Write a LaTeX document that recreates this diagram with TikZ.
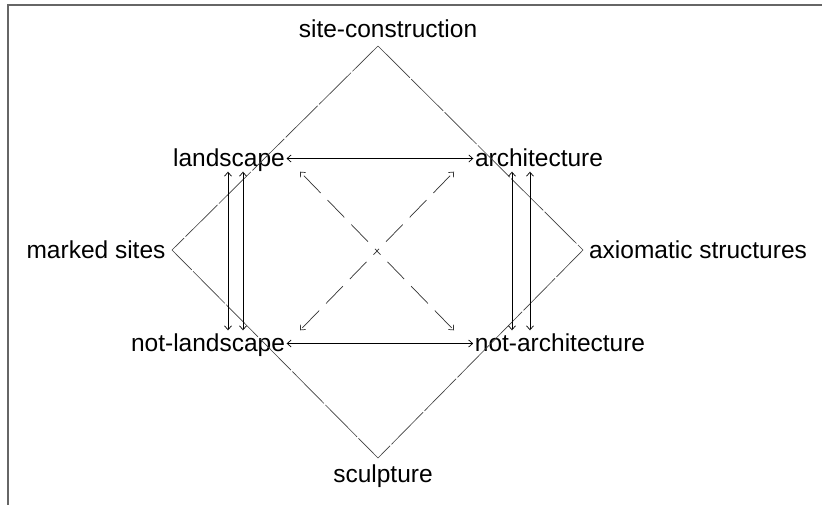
\documentclass[tikz,border=0pt]{standalone}
\usepackage{fontspec}
\setmainfont{Liberation Sans}
\usetikzlibrary{arrows.meta}
\begin{document}
\begin{tikzpicture}[x=1pt,y=-1pt,
  lbl/.style={font=\fontsize{24.5}{28}\selectfont, inner sep=1.5pt, text height=19pt, text depth=4pt, anchor=base},
  diamondedge/.style={draw=black!75, line width=0.65pt, dash pattern=on 45pt off 2pt},
  rel/.style={line width=0.7pt, {Straight Barb[length=4pt,width=7pt]}-{Straight Barb[length=4pt,width=7pt]}},
  diag/.style={rel, draw=black!80, dash pattern=on 0pt off 4.7pt on 24pt off 10pt on 24pt off 10pt on 24pt off 10pt on 8pt off 10pt on 24pt off 10pt on 24pt off 10pt on 24pt off 10pt}]
\useasboundingbox (0,0) rectangle (822,504);
\fill[white] (0,0) rectangle (822,504);
\draw[black!60, line width=1.3pt] (8,520) -- (8,5) -- (840,5);

% labels
\node[lbl] (sc) at (388,37) {site-construction};
\node[lbl] (sp) at (383,482) {sculpture};
\node[lbl] (ms) at (96,258) {marked sites};
\node[lbl] (ax) at (698,258) {axiomatic structures};
\node[lbl] (la) at (229,166) {landscape};
\node[lbl] (ar) at (539,166) {architecture};
\node[lbl] (nl) at (208,351) {not-landscape};
\node[lbl] (na) at (560,351) {not-architecture};

% diamond vertices
\coordinate (T) at (378,46);
\coordinate (B) at (378,458);
\coordinate (L) at (172,250);
\coordinate (R) at (583,250);
\draw[diamondedge] (T) -- (R) -- (B) -- (L) -- cycle;

% helper x positions
\coordinate (x228) at (228,0);
\coordinate (x243) at (243,0);
\coordinate (x512) at (512,0);
\coordinate (x530) at (530,0);
\coordinate (x300) at (300,0);
\coordinate (x454) at (454,0);

% horizontal contrariety arrows
\draw[rel] (la.east) -- (la.east -| ar.west);
\draw[rel] (nl.east) -- (nl.east -| na.west);

% vertical arrows
\draw[rel] (la.south -| x228) -- (nl.north -| x228);
\draw[rel] (la.south -| x243) -- (nl.north -| x243);
\draw[rel] (ar.south -| x512) -- (na.north -| x512);
\draw[rel] (ar.south -| x530) -- (na.north -| x530);

% dashed diagonals
\draw[diag] (la.south -| x300) -- (na.north -| x454);
\draw[diag] (ar.south -| x454) -- (nl.north -| x300);
\end{tikzpicture}
\end{document}
